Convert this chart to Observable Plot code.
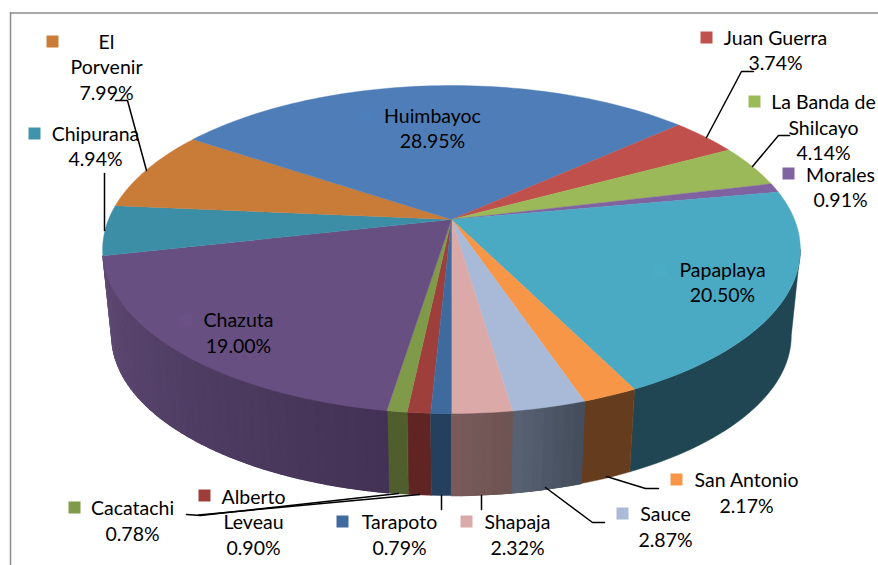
<!DOCTYPE html>
<html>
<head>
<meta charset="utf-8">
<style>html,body{margin:0;padding:0;background:#fff;overflow:hidden}svg{display:block}</style>
<script src="https://cdn.jsdelivr.net/npm/d3@7"></script>
<script src="https://cdn.jsdelivr.net/npm/@observablehq/plot@0.6"></script>
</head>
<body>
<script>
// Data, clockwise in the order of the chart's source table
const names = ["Alberto\nLeveau","Cacatachi","Chazuta","Chipurana","El\nPorvenir","Huimbayoc","Juan Guerra","La Banda de\nShilcayo","Morales","Papaplaya","San Antonio","Sauce","Shapaja","Tarapoto"];
const values = [0.90,0.78,19.00,4.94,7.99,28.95,3.74,4.14,0.91,20.50,2.17,2.87,2.32,0.79];

// Styles
const keyColors = ["#9e3d3a","#7f9a48","#6a5085","#3f93ab","#cb7c38","#4c7fbc","#c0504d","#9bbb59","#8064a2","#4bacc6","#f79646","#aabad7","#d9aaa9","#3f6a9e"];
const topColors = ["#9e3f3c","#7f9a48","#684f82","#3b8ea6","#c97b38","#4f7db8","#bf504c","#9bb958","#8062a0","#4aaac4","#f79646","#a9bad8","#dba9a8","#3f6a9e"];
const wallFrom  = ["#602523","#4f5e2c","#433255","#2a6577","#8a5426","#2f5078","#7a3230","#66783a","#523f68","#1f4652","#653c1e","#454e5c","#6e5453","#25405e"];
const wallTo    = ["#602523","#4f5e2c","#5f4a74","#2a6577","#8a5426","#2f5078","#7a3230","#66783a","#523f68","#1f4652","#653c1e","#5a6476","#7a5c5b","#25405e"];

// Layout (annotation placement in page units)
const labelX = [253,132,238,95,106,432,775,823,840,722,746,665,517,399];
const labelY = [520.5,519.5,331.5,145,65.5,127,49,126,186,281,491.5,525.5,533.5,533.5];
const keyX = [204,74,186,34,52,366,706,754,788,660,676,622,466,342];
const keyY = [495,507,320,133,41,116,37,101,173,270,479,513,521,521];
const leaderX = [[198,300,419],[186,200,398],null,[104,104],[115,127,146],null,[753,741,706],[789,778,752],null,null,[658,645,606],[604,592,545],[481,481],[441,441]];
const leaderY = [[514.5,505,494],[514,515,493],null,[173,230],[100,100,170],null,[71,71,137],[135,135,166],null,null,[488,488,476],[522,522,487],[509,495],[509,495]];

// Pie projection: a disc seen in perspective, with a lower ring for the wall
const firstAngle = 182.84, cx = 451, k = 0.183;
const topRing = {cy: 219, a: 343, b: 158.5};
const lowRing = {cy: 306, a: 334, b: 154.5};
const project = (deg, r) => {
  const t = deg * Math.PI / 180, X = Math.sin(t), Y = Math.cos(t), d = 1 + k * Y;
  return {x: cx + r.a * X / d, y: r.cy - r.b * Y / d};
};

// Slice spans from the values
let acc = firstAngle;
const slices = values.map((v, i) => {
  const start = acc; acc += v * 3.6;
  return {i, start, end: acc};
});
// Only the camera-facing part of the wall is drawn
const frontStart = Math.acos(-k) * 180 / Math.PI, frontEnd = slices[2].end;
const topPts = [], wallPts = [], shadePts = [];
for (const s of slices) {
  const n = Math.max(2, Math.ceil((s.end - s.start) / 1.5));
  const at = j => s.start + (s.end - s.start) * j / n;
  topPts.push({k: s.i, x: cx, y: topRing.cy, fill: topColors[s.i]});
  for (let j = 0; j <= n; j++) topPts.push({k: s.i, ...project(at(j), topRing), fill: topColors[s.i]});
  // wrap angles into one turn to test which part of the wall faces front
  const lo = s.start % 360, span = s.end - s.start;
  const a0 = Math.max(lo, frontStart), a1 = Math.min(lo + span, frontEnd);
  if (a1 <= a0) continue;
  const m = Math.max(2, Math.ceil((a1 - a0) / 1.5));
  const ang = j => a0 + (a1 - a0) * j / m;
  const upper = d3.range(m + 1).map(j => project(ang(j), topRing));
  const lower = d3.range(m + 1).map(j => project(ang(m - j), lowRing));
  for (const p of [...upper, ...lower]) wallPts.push({k: s.i, ...p, fill: wallFrom[s.i]});
  if (wallFrom[s.i] !== wallTo[s.i]) {
    const mix = d3.interpolateRgb(wallFrom[s.i], wallTo[s.i]);
    for (let j = 0; j < m; j++) {
      const key = s.i + "-" + j, fill = mix(j / m);
      for (const p of [project(ang(j), topRing), project(ang(j + 1), topRing), project(ang(j + 1), lowRing), project(ang(j), lowRing)])
        shadePts.push({k: key, ...p, fill});
    }
  }
}
const leaders = leaderX.flatMap((xs, i) => xs ? xs.map((x, j) => ({k: i, x, y: leaderY[i][j]})) : []);
const labels = names.map((n, i) => ({text: `${n}\n${values[i].toFixed(2)}%`, x: labelX[i], y: labelY[i]}));
const keys = names.map((n, i) => ({x: keyX[i], y: keyY[i], fill: keyColors[i]}));

const chart = Plot.plot({
  width: 878, height: 565,
  marginTop: 0, marginRight: 0, marginBottom: 0, marginLeft: 0,
  x: {domain: [0, 878], range: [0, 878], axis: null},
  y: {domain: [0, 565], range: [0, 565], axis: null},
  color: {type: "identity"},
  style: {background: "#fff"},
  marks: [
    Plot.ruleX([10], {y1: 12, y2: 565, stroke: "#8c8c8c", strokeWidth: 1.5}),
    Plot.ruleY([12.5], {x1: 10, x2: 878, stroke: "#8c8c8c", strokeWidth: 1.5}),
    Plot.line(wallPts, {x: "x", y: "y", z: "k", fill: "fill", stroke: "fill", strokeWidth: 0.5, curve: "linear-closed"}),
    Plot.line(shadePts, {x: "x", y: "y", z: "k", fill: "fill", stroke: "fill", strokeWidth: 1.2, curve: "linear-closed"}),
    Plot.line(topPts, {x: "x", y: "y", z: "k", fill: "fill", stroke: "fill", strokeWidth: 0.4, curve: "linear-closed"}),
    Plot.line(leaders, {x: "x", y: "y", z: "k", stroke: "#000", strokeWidth: 1.5, curve: "linear"}),
    Plot.dot(keys, {x: "x", y: "y", fill: "fill", symbol: "square", r: 6.77, stroke: "none"}),
    Plot.text(labels, {x: "x", y: "y", text: "text", fontFamily: "Lato", fontSize: 19.5, lineHeight: 1.31, textAnchor: "middle", fill: "#000"})
  ]
});
document.body.appendChild(chart);
</script>
</body>
</html>
